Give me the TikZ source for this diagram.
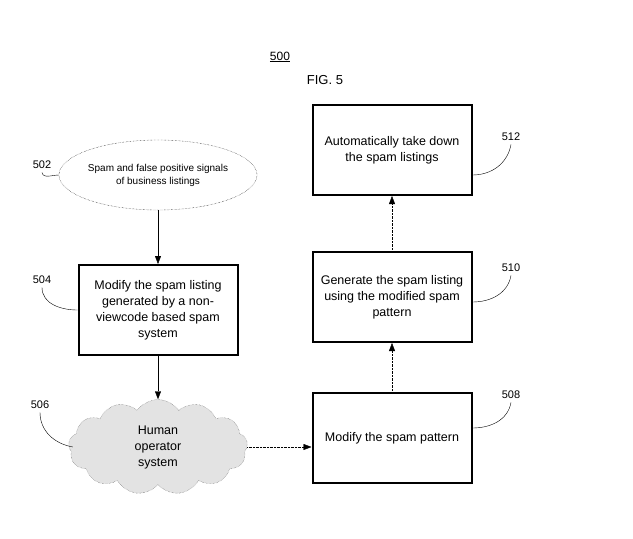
\documentclass[tikz,border=0pt]{standalone}
\usepackage{fontspec}
\setmainfont{Liberation Sans}
\usetikzlibrary{shapes.geometric,shapes.symbols,arrows.meta}
\begin{document}
\begin{tikzpicture}[x=1pt,y=-1pt,
  box/.style={draw,line width=2pt,minimum width=159pt,minimum height=90pt,align=center,font=\fontsize{12.5}{16}\selectfont},
  lbl/.style={font=\fontsize{11}{13}\selectfont},
  lead/.style={thin},
  arr/.style={-{Triangle[length=8pt,width=6pt]},thin},
  darr/.style={arr,densely dotted}]
\useasboundingbox (0,0) rectangle (633,539);
\node[font=\fontsize{12}{14}\selectfont] (n500) at (280,57) {\underline{500}};
\node[font=\fontsize{13}{15}\selectfont] (fig) at (325,80) {FIG. 5};
\node[ellipse,draw,densely dotted,minimum width=157pt,minimum height=70pt,inner sep=0pt,align=center,font=\fontsize{10}{13}\selectfont] (e502) at (158,175) {Spam and false positive signals\\of business listings};
\node[box] (b504) at (158,310) {Modify the spam listing\\generated by a non-\\viewcode based spam\\system};
\node[cloud,cloud puffs=13,cloud puff arc=110,aspect=1.9,draw=gray!70!black,densely dotted,fill=gray!22,minimum width=179pt,minimum height=95pt,align=center,font=\fontsize{12.5}{16}\selectfont] (c506) at (158,447) {Human\\operator\\system};
\node[box] (b508) at (392,438) {Modify the spam pattern};
\node[box] (b510) at (392,297) {Generate the spam listing\\using the modified spam\\pattern};
\node[box] (b512) at (392,150) {Automatically take down\\the spam listings};
\node[lbl] (l502) at (42,165) {502};
\node[lbl] (l504) at (42,280) {504};
\node[lbl] (l506) at (40,405) {506};
\node[lbl] (l508) at (511,395) {508};
\node[lbl] (l510) at (511,268) {510};
\node[lbl] (l512) at (511,137) {512};
\draw[lead] (l502.south) to[out=-80,in=180] (e502.west);
\draw[lead] (l504.south) to[out=-90,in=180] (b504.west);
\draw[lead] (l506.south) to[out=-90,in=170] ([xshift=4pt]c506.west);
\draw[lead] (l508.south) to[out=-100,in=0] ([yshift=10pt]b508.east);
\draw[lead] (l510.south) to[out=-100,in=0] ([yshift=-5pt]b510.east);
\draw[lead] (l512.south) to[out=-100,in=0] ([yshift=-25pt]b512.east);
\draw[arr] (e502) -- (b504);
\draw[arr] (b504) -- (c506.north);
\draw[darr] (c506.east) -- (b508.west |- c506.east);
\draw[darr] (b508) -- (b510);
\draw[darr] (b510) -- (b512);
\end{tikzpicture}
\end{document}
